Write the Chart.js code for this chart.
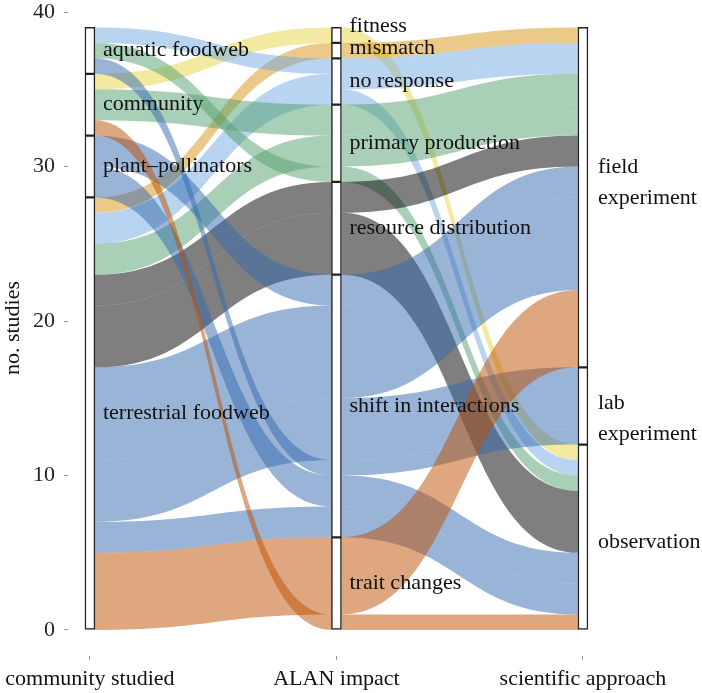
<!DOCTYPE html>
<html>
<head>
<meta charset="utf-8">
<script src="https://cdn.jsdelivr.net/npm/chart.js@4.4.1/dist/chart.umd.min.js"></script>
<style>
  html, body { margin: 0; padding: 0; background: #fff; }
  #wrap { width: 702px; height: 693px; }
</style>
</head>
<body>
<div id="wrap"><canvas id="myChart"></canvas></div>
<script>
// axes of the alluvial plot and their strata (top to bottom)
const axisNames = ['community studied', 'ALAN impact', 'scientific approach'];
const communities = ['aquatic foodweb', 'community', 'plant–pollinators', 'terrestrial foodweb'];
const impacts = ['fitness', 'mismatch', 'no response', 'primary production',
                 'resource distribution', 'shift in interactions', 'trait changes'];
const approaches = ['field\nexperiment', 'lab\nexperiment', 'observation'];
const yTicks = [0, 10, 20, 30, 40];

// one entry per alluvium: community -> impact -> approach, no. studies
const flowCommunity = [0, 0, 0, 1, 1, 1, 2, 2, 3, 3, 3, 3, 3, 3, 3, 3, 3, 3];
const flowImpact    = [2, 3, 5, 0, 3, 6, 5, 5, 1, 2, 2, 3, 4, 4, 5, 5, 5, 6];
const flowApproach  = [0, 2, 1, 2, 0, 2, 0, 2, 0, 0, 2, 0, 0, 2, 0, 1, 2, 0];
const flowCount     = [1, 1, 1, 1, 2, 1, 2, 2, 1, 1, 1, 2, 2, 4, 6, 4, 2, 5];

// stacking order of the alluvia at each axis, top to bottom
const orderAxis1 = [0, 1, 2, 3, 4, 5, 6, 7, 8, 9, 10, 11, 12, 13, 14, 15, 16, 17];
const orderAxis2 = [3, 8, 0, 9, 10, 4, 11, 1, 12, 13, 6, 14, 15, 2, 7, 16, 17, 5];
const orderAxis3 = [8, 0, 9, 4, 11, 12, 6, 14, 17, 15, 2, 3, 10, 1, 13, 7, 16, 5];

// fill colour per ALAN impact
const impactColors = [
    'rgba(232,214,70,0.5)',   // fitness
    'rgba(214,148,20,0.5)',   // mismatch
    'rgba(116,170,226,0.5)',  // no response
    'rgba(84,160,110,0.5)',   // primary production
    'rgba(0,0,0,0.5)',        // resource distribution
    'rgba(52,106,176,0.5)',   // shift in interactions
    'rgba(190,80,0,0.5)'      // trait changes
];

const total = flowCount.reduce((a, b) => a + b, 0);
const axisCats = [flowCommunity, flowImpact, flowApproach];
const axisLabels = [communities, impacts, approaches];
const axisOrders = [orderAxis1, orderAxis2, orderAxis3];

// lode (lo, hi) of every alluvium at every axis
const lodes = axisOrders.map(order => {
    const res = [];
    let top = total;
    order.forEach(i => {
        res[i] = { hi: top, lo: top - flowCount[i] };
        top -= flowCount[i];
    });
    return res;
});

// strata boxes, stacked from the top
const strata = axisLabels.map((names, a) => {
    let top = total;
    return names.map((name, k) => {
        const n = flowCount.filter((c, i) => axisCats[a][i] === k).reduce((s, c) => s + c, 0);
        const box = { name: name, hi: top, lo: top - n };
        top -= n;
        return box;
    });
});

const BAR = 10;

// paint alluvia group by group (fitness first, trait changes last)
const drawOrder = flowCount.map((n, i) => i).sort((a, b) => flowImpact[a] - flowImpact[b] || a - b);

// draws the ribbons between the axes
const alluviaPlugin = {
    id: 'alluvia',
    beforeDatasetsDraw(chart) {
        const { ctx, scales: { x, y } } = chart;
        ctx.save();
        drawOrder.forEach(i => {
            for (let seg = 0; seg < 2; seg++) {
                const x0 = x.getPixelForValue(seg) + BAR / 2;
                const x1 = x.getPixelForValue(seg + 1) - BAR / 2;
                const xm = (x0 + x1) / 2;
                const a = lodes[seg][i], b = lodes[seg + 1][i];
                ctx.beginPath();
                ctx.moveTo(x0, y.getPixelForValue(a.hi));
                ctx.bezierCurveTo(xm, y.getPixelForValue(a.hi), xm, y.getPixelForValue(b.hi), x1, y.getPixelForValue(b.hi));
                ctx.lineTo(x1, y.getPixelForValue(b.lo));
                ctx.bezierCurveTo(xm, y.getPixelForValue(b.lo), xm, y.getPixelForValue(a.lo), x0, y.getPixelForValue(a.lo));
                ctx.closePath();
                ctx.fillStyle = impactColors[flowImpact[i]];
                ctx.fill();
            }
        });
        ctx.restore();
    }
};

// small vertical nudges so the labels sit like in the figure
const labelNudge = { 'fitness': -9, 'mismatch': -2, 'field\nexperiment': -15, 'lab\nexperiment': 13, 'observation': 5 };

// stratum labels next to each box
const labelPlugin = {
    id: 'stratumLabels',
    afterDatasetsDraw(chart) {
        const { ctx, scales: { x, y } } = chart;
        ctx.save();
        ctx.font = "22px 'Liberation Serif', 'DejaVu Serif', serif";
        ctx.fillStyle = '#111';
        ctx.textAlign = 'left';
        ctx.textBaseline = 'middle';
        strata.forEach((boxes, a) => {
            const px = x.getPixelForValue(a) + (a === 2 ? 15 : 13);
            boxes.forEach(b => {
                const lines = b.name.split('\n');
                const cy = y.getPixelForValue((b.hi + b.lo) / 2) + (labelNudge[b.name] || 0);
                lines.forEach((t, k) => {
                    ctx.fillText(t, px, cy + (k - (lines.length - 1) / 2) * 31);
                });
            });
        });
        ctx.restore();
    }
};

Chart.defaults.font.family = "'Liberation Serif', 'DejaVu Serif', serif";
Chart.defaults.font.size = 22;
Chart.defaults.color = '#222';

const ctx = document.getElementById('myChart').getContext('2d');
new Chart(ctx, {
    type: 'bar',
    data: {
        datasets: strata.map((boxes, a) => ({
            data: boxes.map(b => ({ x: a, y: [b.lo, b.hi] })),
            backgroundColor: '#fff',
            borderColor: '#222',
            borderWidth: 1.5,
            borderSkipped: false,
            barThickness: BAR,
            grouped: false
        }))
    },
    options: {
        responsive: true,
        maintainAspectRatio: false,
        animation: false,
        layout: { padding: 0 },
        plugins: { legend: { display: false }, tooltip: { enabled: false } },
        scales: {
            x: {
                type: 'linear',
                offset: false,
                min: -0.089,
                max: 2.483,
                afterBuildTicks: s => { s.ticks = [0, 1, 2].map(v => ({ value: v })); },
                afterFit: s => { s.height = 37; s.paddingLeft = 0; s.paddingRight = 0; },
                ticks: { callback: v => axisNames[v], padding: 6, maxRotation: 0, color: '#111' },
                grid: { offset: false, drawOnChartArea: false, drawTicks: true, tickLength: 4, color: '#999' },
                border: { display: false }
            },
            y: {
                min: -1.683,
                max: 40.777,
                afterBuildTicks: s => { s.ticks = yTicks.map(v => ({ value: v })); },
                afterFit: s => { s.width = 68; s.paddingTop = 0; s.paddingBottom = 0; },
                ticks: { padding: 9, color: '#222' },
                grid: { drawOnChartArea: false, drawTicks: true, tickLength: 4, color: '#999' },
                border: { display: false },
                title: { display: true, text: 'no. studies', padding: 0, color: '#111' }
            }
        }
    },
    plugins: [alluviaPlugin, labelPlugin]
});
</script>
</body>
</html>
